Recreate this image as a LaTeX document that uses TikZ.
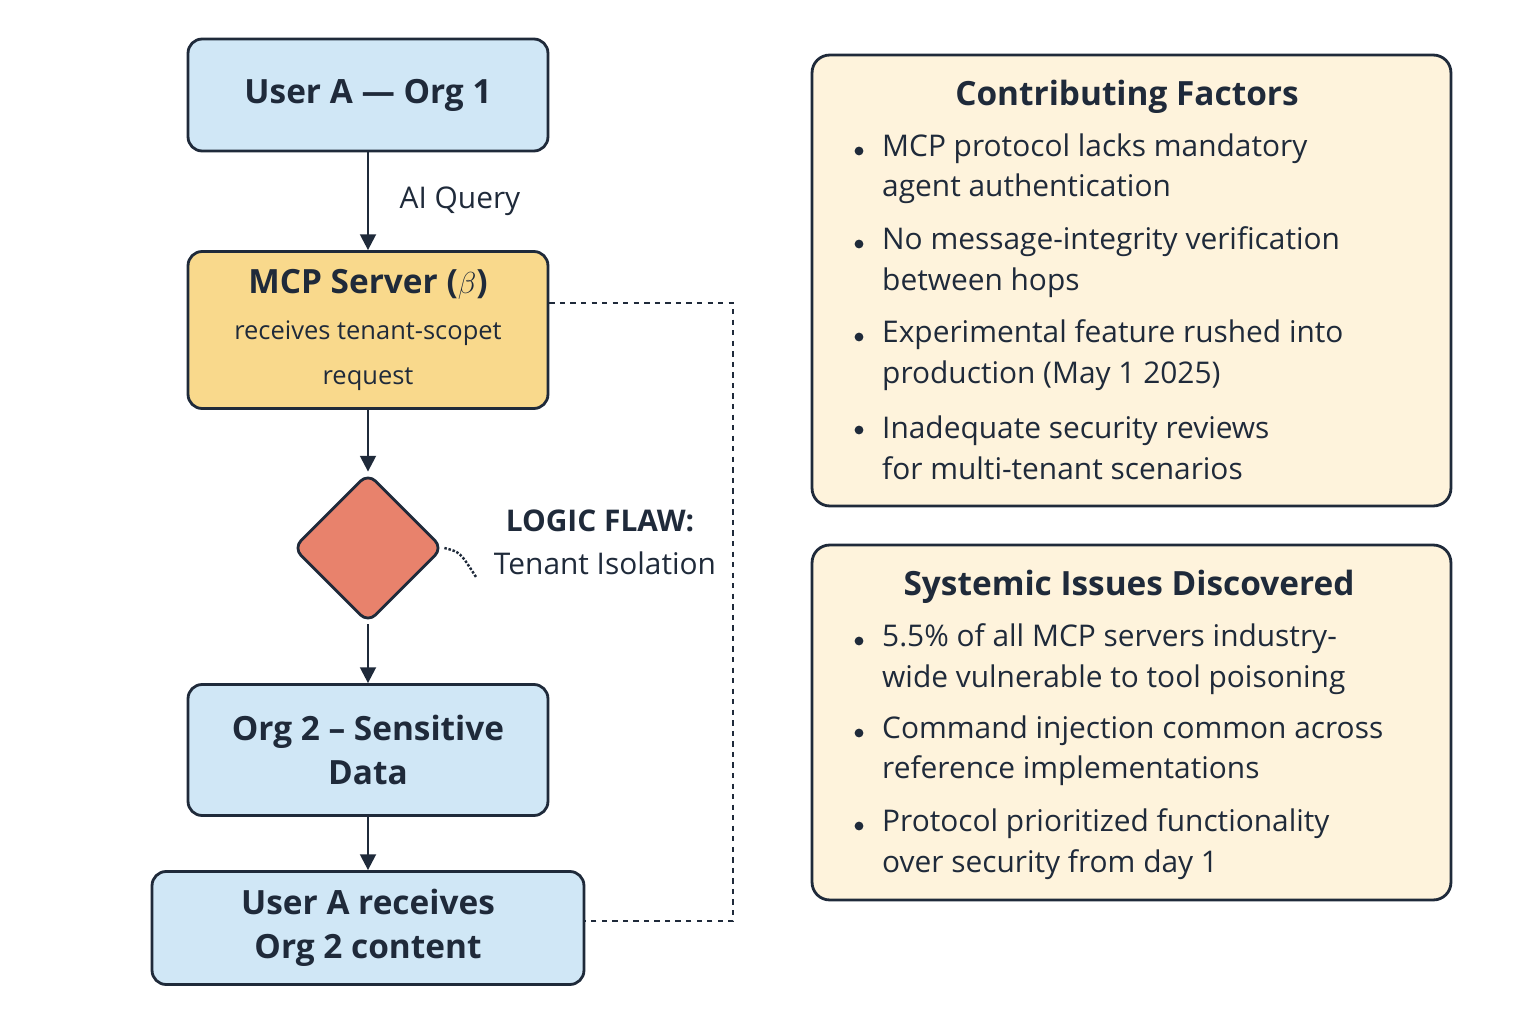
\documentclass[tikz,border=0pt]{standalone}
\usepackage{fontspec}
\setmainfont{Open Sans}
\usetikzlibrary{positioning,shapes.geometric,arrows.meta}
\definecolor{inkc}{HTML}{1F2A3A}
\definecolor{bluec}{HTML}{D0E7F6}
\definecolor{goldc}{HTML}{F9D98C}
\definecolor{redc}{HTML}{E8826C}
\definecolor{creamc}{HTML}{FEF3DC}
\newcommand{\subfont}{\fontsize{14.5}{19}\selectfont\mdseries}
\tikzset{
  flowbox/.style={draw=inkc, line width=1.6pt, rounded corners=8pt, fill=bluec, align=center, text=inkc},
  notebox/.style={draw=inkc, line width=1.6pt, rounded corners=10pt, fill=creamc},
  flowarrow/.style={-{Triangle[length=9pt,width=9pt]}, draw=inkc, line width=1.4pt},
  itemtext/.style={anchor=west, align=left, text=inkc, font=\fontsize{17}{23}\selectfont},
  dotbullet/.style={circle, fill=inkc, inner sep=0pt, minimum size=5pt}
}
\begin{document}
\begin{tikzpicture}[x=0.02cm, y=-0.02cm]
\useasboundingbox (0,0) rectangle (1536,1024);
% flow boxes
\node[flowbox, minimum width=7.2cm, minimum height=2.24cm, font=\fontsize{19}{23}\selectfont\bfseries] (usera) at (368,95) {User A — Org 1};
\node[flowbox, fill=goldc, minimum width=7.2cm, minimum height=3.14cm, font=\fontsize{19}{26}\selectfont\bfseries] (mcp) at (368,330)
  {MCP Server ($\beta$)\\ \subfont receives tenant-scopet\\ \subfont request};
\node[diamond, draw=inkc, line width=1.6pt, fill=redc, rounded corners=6pt, minimum width=3cm, minimum height=3cm, inner sep=0pt] (flaw) at (368,548) {};
\node[flowbox, minimum width=7.2cm, minimum height=2.62cm, font=\fontsize{19}{25}\selectfont\bfseries] (org2) at (368,750) {Org 2 – Sensitive\\Data};
\node[flowbox, minimum width=8.64cm, minimum height=2.26cm, font=\fontsize{19}{25}\selectfont\bfseries] (recv) at (368,928) {User A receives\\Org 2 content};
% arrows
\draw[flowarrow] (usera) -- (mcp) node[midway, right=14pt, text=inkc, font=\fontsize{17}{20}\selectfont] {AI Query};
\draw[flowarrow] (mcp) -- (flaw);
\draw[flowarrow] (flaw) -- (org2);
\draw[flowarrow] (org2) -- (recv);
% leak path
\coordinate (leaktop) at (733,303);
\coordinate (leakbot) at (733,921);
\draw[inkc, dashed, line width=1.3pt] (mcp.east |- leaktop) -- (leaktop) -- (leakbot) -- (recv.east |- leakbot);
\node[text=inkc, font=\fontsize{17}{20}\selectfont\bfseries] (flawhead) at (600,521) {LOGIC FLAW:};
\node[text=inkc, font=\fontsize{17}{20}\selectfont] (flawtext) at (605,563) {Tenant Isolation};
\coordinate (flawtip) at (476,577);
\draw[inkc, densely dotted, line width=1.4pt] (flaw.east) .. controls (460,552) .. (flawtip);
% contributing factors
\node[notebox, minimum width=12.78cm, minimum height=9.02cm] (factors) at (1131.5,280.5) {};
\node[text=inkc, font=\fontsize{19}{23}\selectfont\bfseries] (factorstitle) at (1127,97) {Contributing Factors};
\foreach \yy/\txt in {169/{MCP protocol lacks mandatory\\agent authentication},
                      262/{No message-integrity verification\\between hops},
                      355/{Experimental feature rushed into\\production (May 1 2025)},
                      448/{Inadequate security reviews\\for multi-tenant scenarios}} {
  \node[dotbullet] at (859,\yy-18) {};
  \node[itemtext] at (876,\yy) {\txt};
}
% systemic issues
\node[notebox, minimum width=12.78cm, minimum height=7.1cm] (issues) at (1131.5,722.5) {};
\node[text=inkc, font=\fontsize{19}{23}\selectfont\bfseries] (issuestitle) at (1129,587) {Systemic Issues Discovered};
\foreach \yy/\txt in {659/{5.5\% of all MCP servers industry-\\wide vulnerable to tool poisoning},
                      751/{Command injection common across\\reference implementations},
                      844/{Protocol prioritized functionality\\over security from day 1}} {
  \node[dotbullet] at (859,\yy-18) {};
  \node[itemtext] at (876,\yy) {\txt};
}
\end{tikzpicture}
\end{document}
